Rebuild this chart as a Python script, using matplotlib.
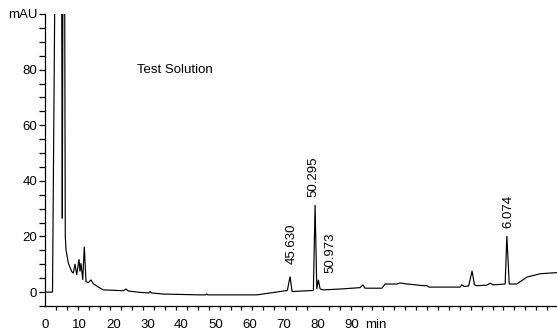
import numpy as np
import matplotlib
matplotlib.use("Agg")
import matplotlib.pyplot as plt
from matplotlib.ticker import FixedLocator, MultipleLocator

plt.rcParams["font.family"] = ["Liberation Sans", "DejaVu Sans"]

# Detector trace: retention time (min) and absorbance (mAU)
time_min = [0.0, 2.20, 3.02, 4.84, 5.07, 5.28, 5.72, 5.95,
            6.16, 6.84, 7.83, 8.30, 8.80, 9.30, 9.97, 10.26, 10.56, 11.06,
            11.52, 12.02, 12.70, 13.49, 14.16, 15.63, 17.10, 22.96, 23.75,
            24.43, 27.86, 30.4, 30.8, 31.2, 34.6, 45.5, 47.0, 47.4, 47.8,
            62.1, 68.9, 71.05, 71.85, 72.43, 78.68, 79.18, 79.68, 80.15,
            80.65, 81.61, 86.51, 92.38, 93.17, 93.84, 98.74, 99.71, 103.14,
            104.11, 105.57, 110.94, 112.0, 112.6, 121.7, 122.2, 122.9, 124.2,
            125.2, 125.9, 126.6, 129.5, 130.5, 131.3, 134.9, 135.4, 136.1,
            138.3, 141.3, 145.2, 150.1]
signal_mau = [0.0, 0.0, 130, 130, 26.5, 130, 130, 20,
              15.2, 10.4, 7.4, 6.8, 10.1, 6.2, 11.8, 7.4, 10.4, 4.4,
              16.3, 3.8, 3.4, 4.4, 3.0, 1.8, 0.8, 0.5, 1.1,
              0.4, -0.1, -0.3, 0.2, -0.3, -0.7, -1.0, -1.0, -0.7, -1.0,
              -1.0, 0.2, 0.6, 5.6, 0.2, 0.6, 31.3, 1.1, 4.4,
              1.1, 0.8, 1.1, 1.6, 2.6, 1.4, 1.4, 2.9, 2.9,
              3.3, 3.0, 2.3, 2.3, 1.8, 1.8, 2.6, 2.0, 2.2,
              7.6, 2.6, 2.3, 2.5, 3.2, 2.6, 2.9, 20.2, 2.9,
              2.9, 5.4, 6.6, 7.0]

# Integrated peaks: apex time, apex height, printed retention label
peak_time = [71.85, 79.18, 80.15, 135.4]
peak_height = [5.6, 31.3, 4.4, 20.2]
peak_label = ["45.630", "50.295", "50.973", "6.074"]
peak_dx_px = [1.5, -2, 12, 1.5]
peak_dy_px = [13, 8, 7, 8]

x_tick_values = [0, 10, 20, 30, 40, 50, 60, 70, 80, 90]
y_tick_values = [0, 20, 40, 60, 80, 100]
y_tick_labels = ["0", "20", "40", "60", "80", "mAU"]
title_text = "Test Solution"

fig = plt.figure(figsize=(5.57, 3.33), dpi=100)
ax = fig.add_axes([45 / 557, 27 / 333, 512 / 557, 292 / 333])

ax.plot(time_min, signal_mau, color="black", lw=0.85, solid_joinstyle="miter")
ax.set_xlim(0, 150.1)
ax.set_ylim(-5, 100)

for s in ("top", "right"):
    ax.spines[s].set_visible(False)
for s in ("left", "bottom"):
    ax.spines[s].set_linewidth(0.9)

fs = 9.5
ax.xaxis.set_major_locator(FixedLocator(x_tick_values))
ax.set_xticklabels([str(v) for v in x_tick_values], fontsize=fs)
ax.xaxis.set_minor_locator(MultipleLocator(3.2))
ax.tick_params(axis="x", which="major", length=0, pad=9.2)
ax.tick_params(axis="x", which="minor", length=3, width=0.9, direction="out")
ax.annotate("min", xy=(97.0, 0), xycoords=("data", "axes fraction"),
            xytext=(0, -12.8 * 0.72), textcoords="offset points",
            ha="center", va="top", fontsize=fs)

ax.yaxis.set_major_locator(FixedLocator(y_tick_values))
ax.set_yticklabels(y_tick_labels, fontsize=fs)
ax.yaxis.set_minor_locator(MultipleLocator(5))
ax.tick_params(axis="y", which="both", length=4, width=0.9, direction="out", pad=1.5)

ax.text(27, 80, title_text, fontsize=fs, ha="left", va="center")

for t, h, lab, dx, dy in zip(peak_time, peak_height, peak_label, peak_dx_px, peak_dy_px):
    ax.annotate(lab, xy=(t, h), xytext=(dx * 0.72, dy * 0.72), textcoords="offset points",
                rotation=90, ha="center", va="bottom", fontsize=fs)

fig.savefig("out.png", dpi=100)
